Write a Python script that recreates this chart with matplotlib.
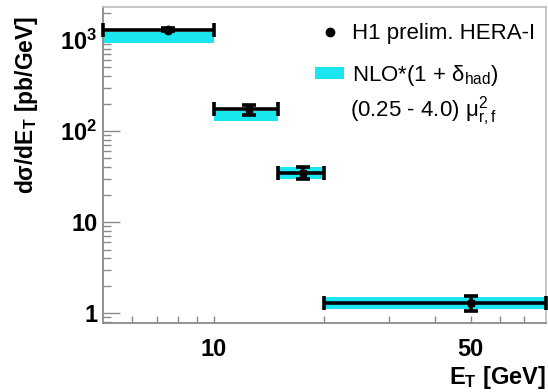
import numpy as np
import matplotlib
matplotlib.use("Agg")
import matplotlib.pyplot as plt
from matplotlib.lines import Line2D
from matplotlib.patches import Patch
from matplotlib.ticker import FixedLocator, FixedFormatter, LogLocator, NullFormatter

plt.rcParams['font.family'] = ['Liberation Sans', 'DejaVu Sans']
plt.rcParams['mathtext.fontset'] = 'custom'
plt.rcParams['mathtext.rm'] = 'Liberation Sans'
plt.rcParams['mathtext.it'] = 'Liberation Sans:italic'
plt.rcParams['mathtext.bf'] = 'Liberation Sans:bold'

# --- data: E_T bins [GeV] ---
bin_lo = np.array([5, 10, 15, 20])
bin_hi = np.array([10, 15, 20, 80])
et_pt = np.array([7.5, 12.5, 17.5, 50])
xsec = np.array([1290, 173, 35, 1.31])        # H1 prelim. [pb/GeV]
xsec_err = np.array([50, 22, 5, 0.25])
markers = ['o', 's', 's', 's']
nlo_lo = np.array([930, 130, 29.5, 1.10])     # NLO band low
nlo_hi = np.array([1230, 167, 40, 1.51])      # NLO band high

ytick_vals = [1, 10, 100, 1000]
ytick_labels = ['1', '10', r'$\mathbf{10^{2}}$', r'$\mathbf{10^{3}}$']
xtick_vals = [10, 50]
xtick_labels = ['10', '50']

CYAN = '#1ae6ef'
FRAME = '#8a8a8a'

fig = plt.figure(figsize=(5.48, 3.92), dpi=100)
ax = fig.add_axes([0.188, 0.176, 0.808, 0.806])

# NLO band
ax.bar(bin_lo, nlo_hi - nlo_lo, width=bin_hi - bin_lo, bottom=nlo_lo,
       align='edge', color=CYAN, linewidth=0, zorder=2)

# data points
for i in range(len(xsec)):
    ax.errorbar(et_pt[i], xsec[i],
                xerr=[[et_pt[i] - bin_lo[i]], [bin_hi[i] - et_pt[i]]],
                yerr=xsec_err[i], fmt=markers[i], color='black',
                ms=6 if markers[i] == 'o' else 5, elinewidth=2.6,
                capsize=4.7, capthick=2.6, zorder=3, clip_on=False)

ax.set_xscale('log')
ax.set_yscale('log')
ax.set_xlim(5, 80)
ax.set_ylim(0.78, 2300)

ax.xaxis.set_major_locator(FixedLocator(xtick_vals))
ax.xaxis.set_major_formatter(FixedFormatter(xtick_labels))
ax.xaxis.set_minor_locator(FixedLocator([6, 7, 8, 9, 20, 30, 40, 60, 70]))
ax.xaxis.set_minor_formatter(NullFormatter())
ax.yaxis.set_major_locator(FixedLocator(ytick_vals))
ax.yaxis.set_major_formatter(FixedFormatter(ytick_labels))
ax.yaxis.set_minor_locator(LogLocator(base=10, subs=np.arange(2, 10)))
ax.yaxis.set_minor_formatter(NullFormatter())

ax.tick_params(axis='x', which='both', direction='in', length=5, width=1,
               color=FRAME, pad=11, labelsize=17, top=False)
ax.tick_params(axis='y', which='major', direction='in', length=12, width=1,
               color=FRAME, pad=4, labelsize=17, right=False)
ax.tick_params(axis='y', which='minor', direction='in', length=6, width=1,
               color=FRAME, right=False)
for lab in ax.get_xticklabels() + ax.get_yticklabels():
    lab.set_fontweight('bold')

for side in ['left', 'bottom']:
    ax.spines[side].set_color(FRAME)
    ax.spines[side].set_linewidth(1.3)
for side in ['top', 'right']:
    ax.spines[side].set_color('#bdbdbd')
    ax.spines[side].set_linewidth(1.2)

ax.set_ylabel(r'dσ/dE$_{\mathbf{T}}$ [pb/GeV]', fontsize=16.5,
              fontweight='bold')
ax.yaxis.set_label_coords(-0.142, 0.69)
ax.set_xlabel(r'E$_{\mathbf{T}}$ [GeV]', fontsize=17, fontweight='bold',
              loc='right')
ax.xaxis.set_label_coords(1.0, -0.13)

handles = [Line2D([], [], marker='o', color='black', linestyle='none', ms=6),
           Patch(facecolor=CYAN, edgecolor='none')]
labels = ['H1 prelim. HERA-I', r'NLO*(1 + δ$_{\rm had}$)']
ax.legend(handles, labels, loc='upper left', bbox_to_anchor=(0.479, 0.95),
          frameon=False, fontsize=16, handlelength=1.3, handleheight=0.5,
          handletextpad=0.35, labelspacing=0.85, borderpad=0, borderaxespad=0)
ax.text(0.558, 0.672, r'(0.25 - 4.0) μ${}^{2}_{\rm r,f}$', transform=ax.transAxes,
        fontsize=16, ha='left', va='center')

fig.savefig('out.png', dpi=100)
